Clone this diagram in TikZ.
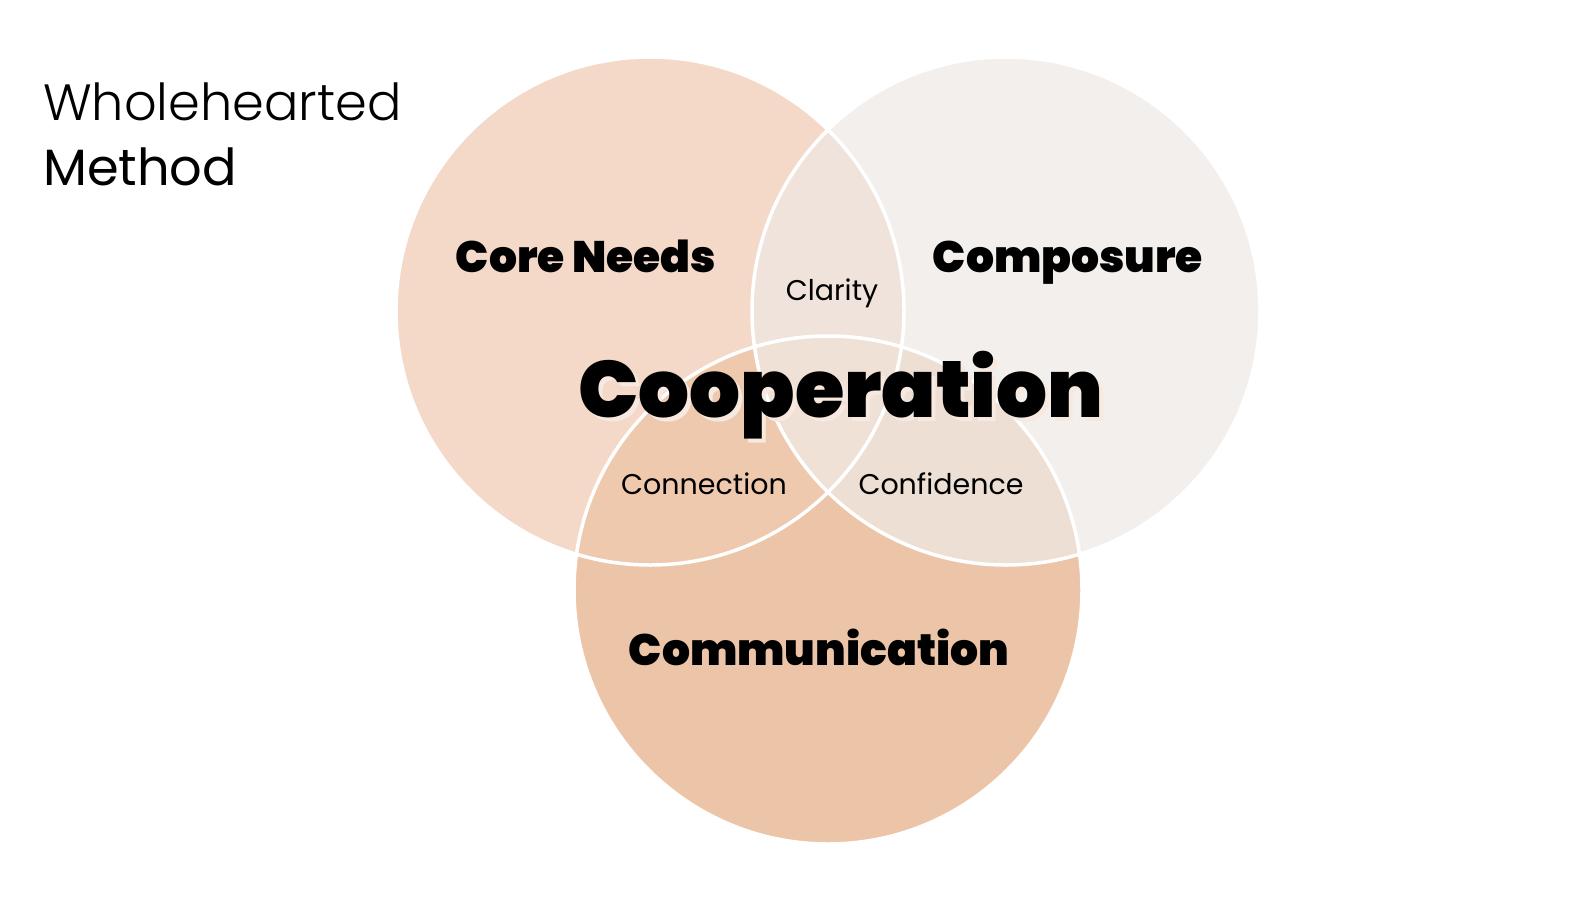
\documentclass[tikz,border=0pt]{standalone}
\usepackage{fontspec}
\setmainfont{Poppins}
\newfontfamily\heavyfont{Poppins Black}
\newfontfamily\thinfont{Poppins Light}
\usetikzlibrary{positioning}
\definecolor{needsfill}{HTML}{F4D9C9}
\definecolor{poisefill}{HTML}{F3EFEC}
\definecolor{talkfill}{HTML}{ECC5A8}
\definecolor{clarityfill}{HTML}{F0E3DB}
\definecolor{connectfill}{HTML}{EEC9AE}
\definecolor{confidfill}{HTML}{EDDFD4}
\definecolor{corefill}{HTML}{EFE1D6}
\definecolor{glowtext}{HTML}{F7E9E0}
\newcommand{\glowword}[1]{\rlap{\hspace{4pt}\raisebox{-4pt}{\textcolor{glowtext}{#1}}}#1}
\tikzset{
  disc/.style={circle,minimum size=508pt,inner sep=0pt,outer sep=0pt},
  ring/.style={draw=white,line width=3.5pt},
  areatitle/.style={font=\heavyfont\fontsize{44}{48}\selectfont,anchor=base,inner sep=0pt},
  overlaplabel/.style={font=\fontsize{28.5}{32}\selectfont,anchor=base,inner sep=0pt},
  bigtitle/.style={font=\heavyfont\fontsize{80}{90}\selectfont,anchor=base,inner sep=0pt},
  headline/.style={font=\fontsize{51}{60}\selectfont,anchor=base west,inner sep=0pt}
}

\begin{document}
\begin{tikzpicture}[x=1pt,y=-1pt]
  \useasboundingbox[fill=white] (0,0) rectangle (1596,897);
  % the three sets
  \node[disc,fill=needsfill] (needs) at (650,311) {};
  \node[disc,fill=poisefill] (poise) at (1006,311) {};
  \node[disc,fill=talkfill]  (talk)  at (828,590) {};
  % overlaps
  \begin{scope}
    \clip (needs.center) circle[radius=254pt];
    \fill[clarityfill] (poise.center) circle[radius=254pt];
    \fill[connectfill] (talk.center) circle[radius=254pt];
  \end{scope}
  \begin{scope}
    \clip (poise.center) circle[radius=254pt];
    \fill[confidfill] (talk.center) circle[radius=254pt];
  \end{scope}
  \begin{scope}
    \clip (needs.center) circle[radius=254pt];
    \clip (poise.center) circle[radius=254pt];
    \fill[corefill] (talk.center) circle[radius=254pt];
  \end{scope}
  \foreach \c in {needs,poise,talk}
    \draw[ring] (\c.center) circle[radius=254pt];

  \node[headline,font=\thinfont\fontsize{51}{60}\selectfont] (whole) at (43,120) {Wholehearted};
  \node[headline] (method) at (43,185) {Method};

  \node[areatitle] (coreneeds) at (586,272) {Core Needs};
  \node[areatitle] (composure) at (1068,272) {Composure};
  \node[areatitle] (communic) at (819,665) {Communication};
  \node[overlaplabel] (clarity) at (832,300) {Clarity};
  \node[overlaplabel] (connection) at (704,494) {Connection};
  \node[overlaplabel] (confidence) at (941,494) {Confidence};
  % centre word, soft shadow behind it
  \node[bigtitle] (coop) at (841,417) {\glowword{Cooperation}};
\end{tikzpicture}
\end{document}
